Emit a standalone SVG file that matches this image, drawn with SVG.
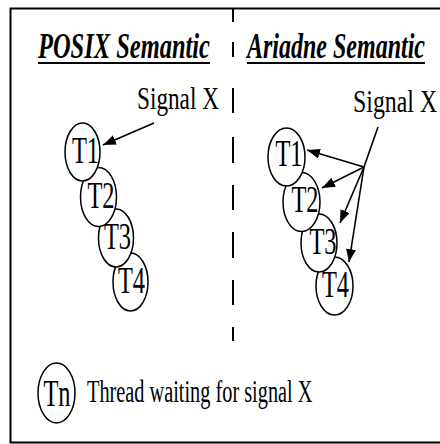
<svg xmlns="http://www.w3.org/2000/svg" width="440" height="444" viewBox="0 0 440 444">
<style>
text{font-family:"Liberation Serif","Times New Roman",serif;fill:#000}
.title{font-size:36px;font-weight:bold;font-style:italic}
.lbl{font-size:31px}
.t{font-size:37px;text-anchor:middle}
ellipse{fill:#fff;stroke:#000;stroke-width:1.5}
.ar{stroke:#000;stroke-width:1.6;fill:none}
.ul{stroke:#000;stroke-width:2}
</style>
<defs>
<marker id="ah" markerUnits="userSpaceOnUse" markerWidth="14" markerHeight="10" refX="13" refY="5" orient="auto">
<path d="M0,0 L13,5 L0,10 Z" fill="#000"/>
</marker>
</defs>
<rect width="440" height="444" fill="#fff"/>
<path d="M440,8.5 H10.5 V442.5 H440" fill="none" stroke="#000" stroke-width="2"/>
<path d="M233,8 V22 M233,42 V57 M233,88 V113 M233,137 V163 M233,185 V210 M233,232 V258 M233,280 V305 M233,327 V341" stroke="#000" stroke-width="2"/>
<text class="title" transform="translate(38,58) scale(0.68,1)">POSIX Semantic</text>
<line class="ul" x1="38" y1="63" x2="210" y2="63"/>
<text class="title" transform="translate(247,58) scale(0.667,1)">Ariadne Semantic</text>
<line class="ul" x1="247" y1="63" x2="425" y2="63"/>
<text class="lbl" transform="translate(137,109) scale(0.75,1)">Signal X</text>
<text class="lbl" transform="translate(353,112) scale(0.77,1)">Signal X</text>
<g id="connectors">
<line class="ar" x1="154" y1="123" x2="103" y2="145" marker-end="url(#ah)"/>
<line class="ar" x1="378" y1="127" x2="364" y2="167"/>
<line class="ar" x1="364" y1="167" x2="307" y2="150" marker-end="url(#ah)"/>
<line class="ar" x1="364" y1="167" x2="322" y2="188" marker-end="url(#ah)"/>
<line class="ar" x1="364" y1="167" x2="340" y2="223" marker-end="url(#ah)"/>
<line class="ar" x1="364" y1="167" x2="349" y2="262" marker-end="url(#ah)"/>
</g>
<g id="posix-T4"><ellipse cx="130.5" cy="282" rx="17.5" ry="29"/><text class="t" transform="translate(131.5,293) scale(0.66,1)">T4</text></g>
<g id="posix-T3"><ellipse cx="116" cy="238" rx="17.5" ry="29"/><text class="t" transform="translate(117.5,249) scale(0.66,1)">T3</text></g>
<g id="posix-T2"><ellipse cx="98.5" cy="197" rx="18" ry="29.5"/><text class="t" transform="translate(101,208) scale(0.66,1)">T2</text></g>
<g id="posix-T1"><ellipse cx="82.5" cy="152" rx="17.5" ry="29"/><text class="t" transform="translate(85.5,163) scale(0.66,1)">T1</text></g>
<g id="ariadne-T4"><ellipse cx="334.5" cy="286" rx="18.5" ry="29"/><text class="t" transform="translate(335.5,297) scale(0.66,1)">T4</text></g>
<g id="ariadne-T3"><ellipse cx="319" cy="243" rx="18" ry="29"/><text class="t" transform="translate(323,254) scale(0.66,1)">T3</text></g>
<g id="ariadne-T2"><ellipse cx="301.5" cy="202" rx="18.5" ry="29.5"/><text class="t" transform="translate(305,212) scale(0.66,1)">T2</text></g>
<g id="ariadne-T1"><ellipse cx="286.5" cy="157" rx="18.5" ry="29"/><text class="t" transform="translate(289,166) scale(0.66,1)">T1</text></g>
<g id="legend"><ellipse cx="56.5" cy="393" rx="18.5" ry="30"/><text class="t" transform="translate(57,406) scale(0.66,1)">Tn</text>
<text class="lbl" transform="translate(87,402) scale(0.655,1)">Thread waiting for signal X</text></g>
</svg>
